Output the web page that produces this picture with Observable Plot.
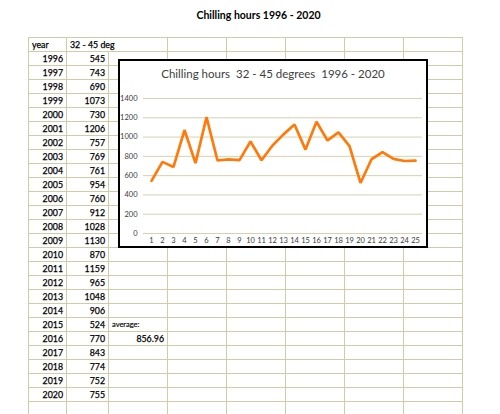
<!DOCTYPE html>
<html><head><meta charset="utf-8">
<script src="https://cdn.jsdelivr.net/npm/d3@7"></script>
<script src="https://cdn.jsdelivr.net/npm/@observablehq/plot@0.6"></script>
<style>
body{margin:0;width:500px;height:414px;overflow:hidden;background:#fff;font-family:Lato,"Open Sans",sans-serif;position:relative}
#title{position:absolute;top:9px;left:0;width:517px;text-align:center;font-size:10.5px;font-weight:bold;color:#000}
table{position:absolute;left:28px;top:37px;border-collapse:collapse;table-layout:fixed;font-size:8.8px;color:#000;-webkit-text-stroke:0.25px #000}
tr{height:14px}
td{border:1px solid #d0cca6;padding:0 3px;line-height:12px;white-space:nowrap;overflow:visible}
td.r{text-align:right}
td.s{font-size:7.5px;-webkit-text-stroke:0.15px #000}
#chart{position:absolute;left:118px;top:59px;width:310px;height:189px;border:2px solid #000;box-sizing:border-box;background:#fff}
#ctitle{position:absolute;top:6px;left:0;width:100%;text-align:center;font-size:11.5px;color:#404040;white-space:pre}
#plot{position:absolute;left:0;top:0}
</style></head><body>
<div id="title">Chilling hours 1996 - 2020</div>
<table id="tbl"><colgroup>
<col style="width:38px"><col style="width:42px"><col style="width:59px"><col style="width:59px"><col style="width:59px"><col style="width:59px"><col style="width:59px"><col style="width:59px">
</colgroup><tbody></tbody></table>
<div id="chart"><div id="ctitle">Chilling hours  32 - 45 degrees  1996 - 2020</div><div id="plot"></div></div>
<script>
const years = [1996,1997,1998,1999,2000,2001,2002,2003,2004,2005,2006,2007,2008,2009,2010,2011,2012,2013,2014,2015,2016,2017,2018,2019,2020];
const hours = [545,743,690,1073,730,1206,757,769,761,954,760,912,1028,1130,870,1159,965,1048,906,524,770,843,774,752,755];
const idx = years.map((y,i)=>i+1);
const yTicks = [0,200,400,600,800,1000,1200,1400];
const avgLabel = "average:";
const avgValue = "856.96";

// spreadsheet table
const tb = document.querySelector("#tbl tbody");
const emptyCells = n => Array.from({length:n},()=>"<td></td>").join("");
let html = `<tr><td>year</td><td colspan="2">32 - 45 deg</td>${emptyCells(5)}</tr>`;
years.forEach((y,i)=>{
  let c3 = "<td></td>";
  if (i===19) c3 = `<td class="s">${avgLabel}</td>`;
  if (i===20) c3 = `<td class="r">${avgValue}</td>`;
  html += `<tr><td class="r">${y}</td><td class="r">${hours[i]}</td>${c3}${emptyCells(5)}</tr>`;
});
html += `<tr><td></td><td></td>${emptyCells(6)}</tr>`;
tb.innerHTML = html;

const data = idx.map((k,i)=>({k, v: hours[i]}));
const plot = Plot.plot({
  width: 306, height: 185,
  marginLeft: 23, marginRight: 4, marginTop: 37, marginBottom: 13,
  style: {fontFamily: "Lato, sans-serif", fontSize: "7.5px", color: "#3a3a3a", background: "transparent", overflow: "visible"},
  x: {type: "point", domain: idx, padding: 0.5, align: 0.5, tickSize: 0, tickPadding: 4, label: null},
  y: {domain: [0,1400], ticks: yTicks, tickFormat: "d", tickSize: 0, tickPadding: 6, label: null},
  marks: [
    Plot.ruleY(yTicks, {stroke: "#d6d2ae", strokeWidth: 1}),
    Plot.line(data, {x: "k", y: "v", stroke: "#ff7a0a", strokeWidth: 2.7, strokeLinejoin: "miter"})
  ]
});
document.getElementById("plot").appendChild(plot);
</script>
</body></html>
